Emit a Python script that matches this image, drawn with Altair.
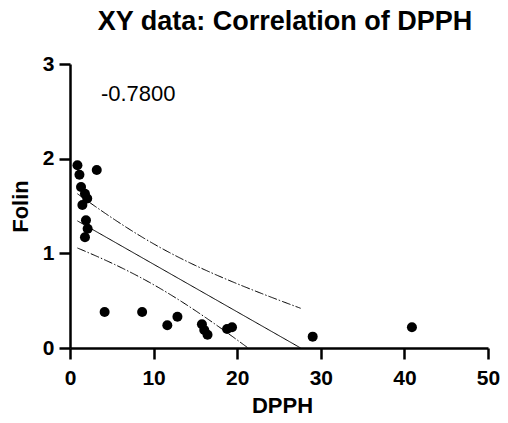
import altair as alt
import numpy as np
import pandas as pd

# ---- data ----
dpph = [0.89, 1.13, 1.32, 1.79, 1.48, 2.06, 1.91, 2.11, 1.79, 3.20,
        4.14, 8.63, 12.85, 11.64, 15.78, 16.06, 16.45, 18.79, 19.38, 29.03, 40.90]
folin = [1.93, 1.83, 1.70, 1.63, 1.51, 1.58, 1.35, 1.26, 1.17, 1.88,
         0.38, 0.38, 0.33, 0.24, 0.25, 0.19, 0.14, 0.20, 0.22, 0.12, 0.22]
r_label = ["-0.7800"]
r_label_x = [3.7]
r_label_y = [2.61]
x_ticks = [0, 10, 20, 30, 40, 50]
y_ticks = [0, 1, 2, 3]

# ---- linear regression with 95% confidence band of the mean ----
x = np.array(dpph)
y = np.array(folin)
n = len(x)
slope, intercept = np.polyfit(x, y, 1)
resid = y - (intercept + slope * x)
s = np.sqrt(np.sum(resid ** 2) / (n - 2))
sxx = np.sum((x - x.mean()) ** 2)
t_crit = 2.093  # t(0.975, df=19)
x_end = -intercept / slope
grid = np.linspace(x.min(), x_end, 200)
fit = intercept + slope * grid
half = t_crit * s * np.sqrt(1.0 / n + (grid - x.mean()) ** 2 / sxx)

pts = pd.DataFrame({"DPPH": dpph, "Folin": folin})
fit_df = pd.DataFrame({"DPPH": grid, "Folin": fit})
band_df = pd.concat([
    pd.DataFrame({"DPPH": grid, "Folin": fit + half, "band": "upper"}),
    pd.DataFrame({"DPPH": grid, "Folin": fit - half, "band": "lower"}),
])
lab_df = pd.DataFrame({"DPPH": r_label_x, "Folin": r_label_y, "t": r_label})

PLOT_W, PLOT_H = 418, 284

xs = alt.Scale(domain=[0, 50], nice=False, zero=False)
ys = alt.Scale(domain=[0, 3], nice=False, zero=False)
xax = alt.Axis(values=x_ticks, format="d", title="DPPH", labelPadding=8, labelFlush=False,
               titleX=212, titleY=64, titleBaseline="alphabetic", titleAlign="center")
yax = alt.Axis(values=y_ticks, format="d", title="Folin", labelPadding=5, labelFlush=False,
               titleX=-43, titleY=PLOT_H / 2, titleAngle=-90,
               titleBaseline="alphabetic", titleAlign="center")

points = alt.Chart(pts).mark_circle(size=100, color="black", opacity=1).encode(
    x=alt.X("DPPH:Q", scale=xs, axis=xax),
    y=alt.Y("Folin:Q", scale=ys, axis=yax),
)
fit_line = alt.Chart(fit_df).mark_line(color="black", strokeWidth=1, clip=True).encode(
    x=alt.X("DPPH:Q", scale=xs), y=alt.Y("Folin:Q", scale=ys)
)
bands = alt.Chart(band_df).mark_line(
    color="black", strokeWidth=1, strokeDash=[9, 2, 1.5, 2], clip=True
).encode(
    x=alt.X("DPPH:Q", scale=xs), y=alt.Y("Folin:Q", scale=ys), detail="band:N"
)
label = alt.Chart(lab_df).mark_text(
    align="left", baseline="alphabetic", font="Liberation Sans", fontSize=22, color="black"
).encode(x=alt.X("DPPH:Q", scale=xs), y=alt.Y("Folin:Q", scale=ys), text="t:N")

chart = alt.layer(bands, fit_line, points, label).properties(
    width=PLOT_W,
    height=PLOT_H,
    autosize=alt.AutoSizeParams(type="none"),
    padding={"left": 62, "top": 56, "right": 12, "bottom": 66},
    title=alt.TitleParams(
        "XY data: Correlation of DPPH",
        font="Liberation Sans", fontSize=27, fontWeight="bold", color="black",
        anchor="middle", frame="group", offset=17, dx=6,
    ),
).configure_view(stroke=None).configure_axis(
    grid=False,
    domainColor="black", domainWidth=2.5,
    tickColor="black", tickWidth=2.5, tickSize=11,
    labelFont="Liberation Sans", labelFontSize=21, labelFontWeight="bold",
    labelColor="black",
    titleFont="Liberation Sans", titleFontSize=22, titleFontWeight="bold",
    titleColor="black",
)

chart.save("out.html", embed_options={"renderer": "svg", "actions": False})
